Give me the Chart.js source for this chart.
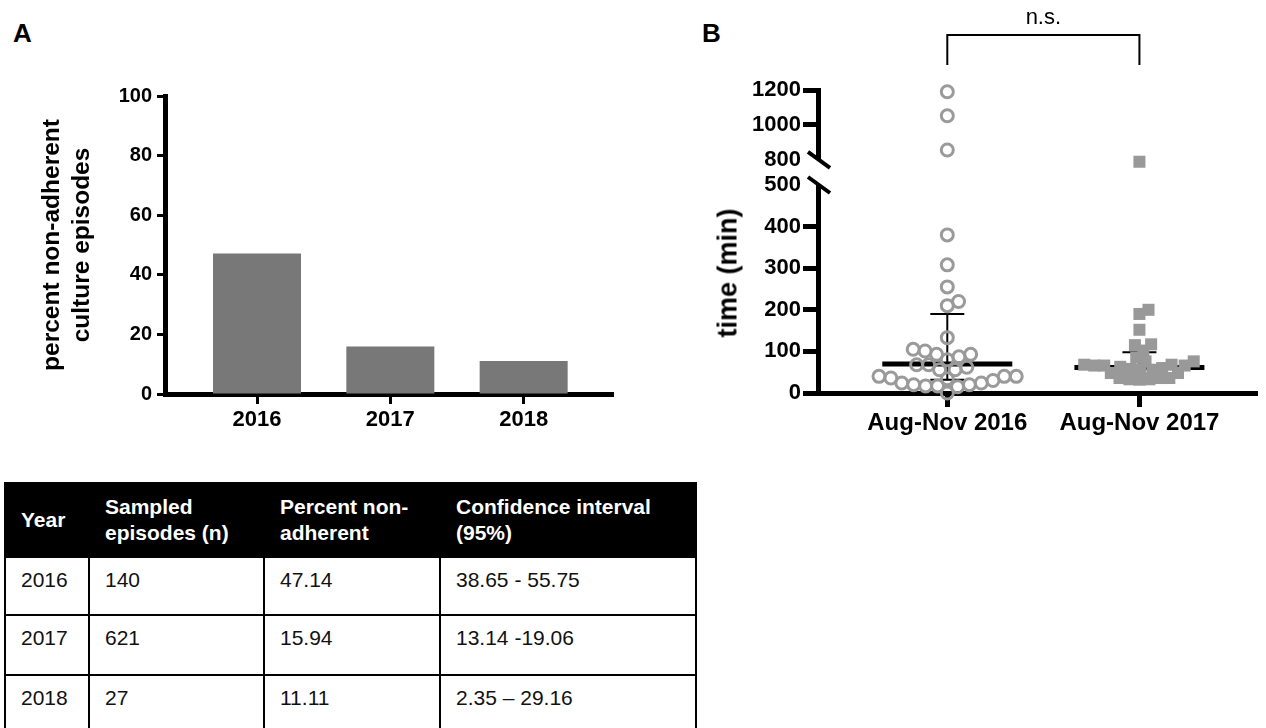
<!DOCTYPE html>
<html lang="en">
<head>
<meta charset="UTF-8" />
<title>Non-adherent culture episodes</title>
<script src="https://cdn.jsdelivr.net/npm/chart.js@4.4.1"></script>
<style>
  body { margin:0; width:1266px; height:728px; overflow:hidden; background:#fff; position:relative;
         font-family:"Liberation Sans", Arial, sans-serif; color:#000; }
  .panel { position:absolute; top:20px; font-size:26px; line-height:26px; font-weight:bold; }
  #boxA { position:absolute; left:0; top:0; }
  #boxB { position:absolute; left:690px; top:0; }
  #ytitleB { position:absolute; left:728px; top:273px; font-size:27px; font-weight:bold; white-space:nowrap;
             transform:translate(-50%,-50%) rotate(-90deg); }
  #tbl { position:absolute; left:4px; top:482px; border-collapse:collapse; table-layout:fixed; width:691px;
         font-size:21px; line-height:26px; }
  #tbl td, #tbl th { border:2px solid #000; padding:0 0 0 15px; text-align:left; overflow:hidden; }
  #tbl th { background:#000; color:#fff; font-weight:bold; height:72px; vertical-align:middle; }
  #tbl td { vertical-align:top; padding-top:9px; color:#111; }
</style>
</head>
<body>

<div class="panel" style="left:13px">A</div>
<div class="panel" style="left:702px">B</div>

<canvas id="boxA" width="640" height="460"></canvas>
<canvas id="boxB" width="576" height="460"></canvas>
<div id="ytitleB">time (min)</div>

<table id="tbl">
  <colgroup><col style="width:84px"><col style="width:175px"><col style="width:176px"><col style="width:256px"></colgroup>
  <thead><tr id="head"></tr></thead>
  <tbody id="rows"></tbody>
</table>

<script>
  // panel A: bars + table
  var years    = [2016, 2017, 2018];
  var sampled  = [140, 621, 27];
  var percents = [47.14, 15.94, 11.11];
  var ci       = ['38.65 - 55.75', '13.14 -19.06', '2.35 \u2013 29.16'];
  var heads    = [['Year'], ['Sampled', 'episodes (n)'], ['Percent non-', 'adherent'], ['Confidence interval', '(95%)']];
  var rowHeights = [58, 60, 60];
  var ticksA   = [0, 20, 40, 60, 80, 100];

  // panel B: time per episode
  var groups    = ['Aug-Nov 2016', 'Aug-Nov 2017'];
  var times2016 = [1190, 1053, 857, 380, 308, 255, 220, 210, 133, 105, 101, 93, 93, 87, 80, 68, 68, 62,
                   56, 56, 40, 40, 40, 36, 34, 30, 24, 24, 20, 20, 17, 17, 15, 0];
  var times2017 = [790, 200, 190, 152, 117, 115, 102, 85, 76, 76, 68, 68, 66, 66, 66, 63, 60, 58,
                   56, 56, 48, 48, 36, 36, 36, 33, 33, 32];
  var medians   = [70, 61];
  var lowQ      = [32, 45];
  var highQ     = [190, 98];
  var ticksLow  = [0, 100, 200, 300, 400, 500];
  var ticksHigh = [800, 1000, 1200];
  var BREAK     = 500;

  Chart.defaults.font.family = "'Liberation Sans', Arial, sans-serif";
  Chart.defaults.color = '#000';

  // table
  var head = document.getElementById('head');
  heads.forEach(function(h){
    var th = document.createElement('th');
    th.innerHTML = h.join('<br>');
    head.appendChild(th);
  });
  var body = document.getElementById('rows');
  years.forEach(function(y, i){
    var tr = document.createElement('tr');
    tr.style.height = rowHeights[i] + 'px';
    [y, sampled[i], percents[i].toFixed(2), ci[i]].forEach(function(v){
      var td = document.createElement('td');
      td.textContent = v;
      tr.appendChild(td);
    });
    body.appendChild(tr);
  });

  function fixTicks(list){ return function(s){ s.ticks = list.map(function(v){ return {value:v}; }); }; }
  function plain(v){ return String(v); }

  new Chart(document.getElementById('boxA'), {
    type: 'bar',
    data: { datasets: [{
      data: years.map(function(y, i){ return {x:y, y:percents[i]}; }),
      backgroundColor: '#787878', categoryPercentage: 1, barPercentage: 0.66
    }]},
    options: {
      responsive: false, animation: false,
      layout: { padding: { left:30, top:96, right:27, bottom:16 } },
      plugins: { legend:{display:false}, tooltip:{enabled:false} },
      scales: {
        x: {
          type: 'linear', min: 2015.31, max: 2018.67, offset: false,
          afterBuildTicks: fixTicks(years),
          afterFit: function(s){ s.height = 50; },
          grid: { offset:false, drawOnChartArea:false, tickLength:10, tickWidth:3, tickColor:'#000' },
          border: { width:5, color:'#000' },
          ticks: { font:{size:22, weight:'bold'}, padding:3, autoSkip:false, maxRotation:0, callback:plain }
        },
        y: {
          min: 0, max: 100,
          afterBuildTicks: fixTicks(ticksA),
          afterFit: function(s){ s.width = 135; },
          grid: { drawOnChartArea:false, tickLength:8, tickWidth:3, tickColor:'#000' },
          border: { width:5, color:'#000' },
          ticks: { font:{size:20, weight:'bold'}, padding:5, autoSkip:false },
          title: { display:true, text:['percent non-adherent', 'culture episodes'],
                   font:{size:24.5, weight:'bold'}, padding:{top:8, bottom:0} }
        }
      }
    }
  });

  function part(vals, g, high){
    return vals.filter(function(v){ return high ? v > BREAK : v <= BREAK; })
               .map(function(v){ return {x:g + 1, y:v}; });
  }
  var ring = { pointStyle:'circle', pointRadius:6, pointBorderWidth:3, clip:false,
               pointBorderColor:'#9a9a9a', pointBackgroundColor:'rgba(0,0,0,0)' };
  var box  = { pointStyle:'rect', pointRadius:8.5, pointBorderWidth:0, clip:false,
               pointBackgroundColor:'#999', pointBorderColor:'#999' };

  var decor = {
    id: 'decor',
    beforeDatasetsDraw: function(chart){
      var c = chart.ctx, xs = chart.scales.x, yl = chart.scales.yLow;
      c.save();
      c.strokeStyle = '#000';
      for (var g = 0; g < groups.length; g++) {
        var cx = xs.getPixelForValue(g + 1);
        var a = yl.getPixelForValue(lowQ[g]), b = yl.getPixelForValue(highQ[g]);
        c.lineWidth = 2;
        c.beginPath();
        c.moveTo(cx, a); c.lineTo(cx, b);
        c.moveTo(cx - 17, a); c.lineTo(cx + 17, a);
        c.moveTo(cx - 17, b); c.lineTo(cx + 17, b);
        c.stroke();
        var m = yl.getPixelForValue(medians[g]);
        c.lineWidth = 5;
        c.beginPath(); c.moveTo(cx - 65, m); c.lineTo(cx + 65, m); c.stroke();
      }
      c.restore();
    },
    afterDraw: function(chart){
      var c = chart.ctx, xs = chart.scales.x;
      var x = chart.chartArea.left;
      var y8 = chart.scales.yHigh.getPixelForValue(ticksHigh[0]);
      var y5 = chart.scales.yLow.getPixelForValue(BREAK);
      c.save();
      // axis break
      c.fillStyle = '#fff';
      c.fillRect(x - 4, y8, 8, y5 - y8);
      c.strokeStyle = '#000';
      c.lineWidth = 4;
      [y8, y5].forEach(function(y){
        c.beginPath(); c.moveTo(x - 10, y - 8); c.lineTo(x + 12, y + 8); c.stroke();
      });
      // significance bracket
      var x1 = xs.getPixelForValue(1), x2 = xs.getPixelForValue(2);
      c.lineWidth = 2;
      c.beginPath();
      c.moveTo(x1, 65); c.lineTo(x1, 35); c.lineTo(x2, 35); c.lineTo(x2, 65);
      c.stroke();
      c.fillStyle = '#000';
      c.font = "22px 'Liberation Sans', Arial, sans-serif";
      c.textAlign = 'center';
      c.textBaseline = 'middle';
      c.fillText('n.s.', (x1 + x2) / 2, 18);
      c.restore();
    }
  };

  var tickMark = function(hidden){
    return function(ctx){ return ctx.tick && ctx.tick.value === hidden ? 'rgba(0,0,0,0)' : '#000'; };
  };

  var chartB = new Chart(document.getElementById('boxB'), {
    type: 'scatter',
    data: { datasets: [
      Object.assign({ data: part(times2016, 0, false), yAxisID:'yLow' }, ring),
      Object.assign({ data: part(times2016, 0, true),  yAxisID:'yHigh' }, ring),
      Object.assign({ data: part(times2017, 1, false), yAxisID:'yLow' }, box),
      Object.assign({ data: part(times2017, 1, true),  yAxisID:'yHigh' }, box)
    ]},
    options: {
      responsive: false, animation: false,
      layout: { padding: { left:0, top:90, right:0, bottom:17 } },
      plugins: { legend:{display:false}, tooltip:{enabled:false} },
      scales: {
        x: {
          type: 'linear', min: 0.327, max: 2.612,
          afterBuildTicks: fixTicks([1, 2]),
          afterFit: function(s){ s.height = 50; },
          grid: { drawOnChartArea:false, tickLength:14, tickWidth:5, tickColor:'#000' },
          border: { width:5, color:'#000' },
          ticks: { font:{size:24, weight:'bold'}, padding:2, autoSkip:false, maxRotation:0,
                   callback:function(v, i){ return groups[i]; } }
        },
        yLow: {
          type: 'linear', position: 'left', stack: 'time', stackWeight: 208, weight: 0,
          min: 0, max: BREAK,
          afterBuildTicks: fixTicks(ticksLow),
          afterFit: function(s){ s.width = 128; },
          grid: { drawOnChartArea:false, tickLength:15, tickWidth:5, tickColor:tickMark(BREAK) },
          border: { width:5, color:'#000' },
          ticks: { font:{size:22, weight:'bold'}, padding:2, autoSkip:false, callback:plain }
        },
        yHigh: {
          type: 'linear', position: 'left', stack: 'time', stackWeight: 95, weight: 1,
          min: 657, max: 1200,
          afterBuildTicks: fixTicks(ticksHigh),
          afterFit: function(s){ s.width = 128; },
          grid: { drawOnChartArea:false, tickLength:15, tickWidth:5, tickColor:tickMark(ticksHigh[0]) },
          border: { width:5, color:'#000' },
          ticks: { font:{size:22, weight:'bold'}, padding:2, autoSkip:false, callback:plain }
        }
      }
    },
    plugins: [decor]
  });

  // spread the dots sideways so they do not pile up (beeswarm)
  function swarm(chart){
    var xs = chart.scales.x;
    var unit = xs.getPixelForValue(1) - xs.getPixelForValue(0);
    [[0, 1, 12], [2, 3, 10]].forEach(function(set){
      var D = set[2], pts = [], placed = [];
      [set[0], set[1]].forEach(function(di){
        var ds = chart.data.datasets[di], sc = chart.scales[ds.yAxisID];
        ds.data.forEach(function(p){ pts.push({p:p, y:sc.getPixelForValue(p.y)}); });
      });
      pts.sort(function(a, b){ return b.y - a.y; });
      pts.forEach(function(pt){
        var cands = [0];
        placed.forEach(function(q){
          var dy = Math.abs(pt.y - q.y);
          if (dy < D) { var dx = Math.sqrt(D * D - dy * dy); cands.push(q.x + dx, q.x - dx); }
        });
        cands.sort(function(a, b){ return Math.abs(a) - Math.abs(b); });
        var best = cands.find(function(c){
          return placed.every(function(q){ return (c - q.x) * (c - q.x) + (pt.y - q.y) * (pt.y - q.y) >= D * D - 0.01; });
        });
        pt.x = best;
        placed.push(pt);
        pt.p.x += best / unit;
      });
    });
    chart.update('none');
  }
  swarm(chartB);
</script>
</body>
</html>
